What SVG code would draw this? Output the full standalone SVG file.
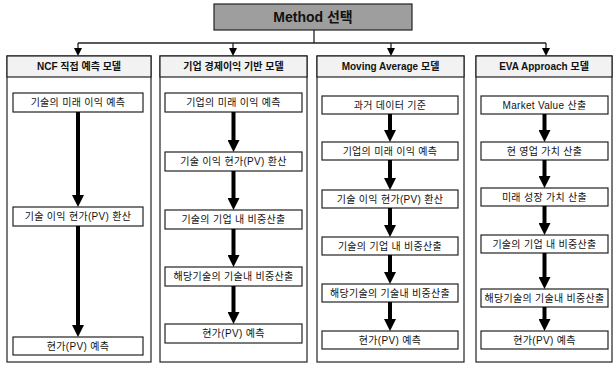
<svg xmlns="http://www.w3.org/2000/svg" width="614" height="365" viewBox="0 0 614 365">
<style>
  text { font-family: "Liberation Sans", "Noto Sans CJK KR", sans-serif; fill: #111; text-anchor: middle; dominant-baseline: central; }
  .t { font-size: 14px; font-weight: bold; }
  .h { font-size: 10px; font-weight: bold; }
  .b { font-size: 10px; letter-spacing: 0.3px; }
  .frame { fill: #fff; stroke: #222; stroke-width: 1.2; }
  .head { fill: #f2f2f2; stroke: #222; stroke-width: 1.2; }
  .box { fill: #fff; stroke: #222; stroke-width: 1.2; }
  .thin { stroke: #222; stroke-width: 1.3; fill: none; }
  .thick { stroke: #000; stroke-width: 4; fill: none; }
</style>
<defs>
  <marker id="big" markerUnits="userSpaceOnUse" markerWidth="12" markerHeight="12" refX="2" refY="6" orient="auto">
    <path d="M0,0 L12,6 L0,12 z" fill="#000"/>
  </marker>
  <marker id="small" markerUnits="userSpaceOnUse" markerWidth="8" markerHeight="8" refX="1" refY="4" orient="auto">
    <path d="M0,0 L8,4 L0,8 z" fill="#000"/>
  </marker>
</defs>
<rect width="614" height="365" fill="#fff"/>

<g id="connectors">
  <line class="thin" x1="314" y1="30" x2="314" y2="43"/>
  <line class="thin" x1="78" y1="43" x2="546" y2="43"/>
  <line class="thin" x1="78" y1="43" x2="78" y2="49" marker-end="url(#small)"/>
  <line class="thin" x1="233" y1="43" x2="233" y2="49" marker-end="url(#small)"/>
  <line class="thin" x1="391" y1="43" x2="391" y2="49" marker-end="url(#small)"/>
  <line class="thin" x1="546" y1="43" x2="546" y2="49" marker-end="url(#small)"/>
</g>

<g id="title">
  <rect x="214" y="4" width="198" height="26" fill="#9e9e9e" stroke="#222" stroke-width="1.2"/>
  <text class="t" x="313" y="17">Method 선택</text>
</g>

<g id="col1">
  <rect class="frame" x="7" y="56" width="144" height="306"/>
  <rect class="head" x="7" y="56" width="144" height="21"/>
  <text class="h" x="79" y="66.5">NCF 직접 예측 모델</text>
  <rect class="box" x="13" y="93" width="130" height="19"/>
  <text class="b" x="78" y="102.5">기술의 미래 이익 예측</text>
  <rect class="box" x="13" y="207" width="130" height="19"/>
  <text class="b" x="78" y="216.5">기술 이익 현가(PV) 환산</text>
  <rect class="box" x="13" y="337" width="130" height="18"/>
  <text class="b" x="78" y="346">현가(PV) 예측</text>
  <line class="thick" x1="78" y1="112" x2="78" y2="197" marker-end="url(#big)"/>
  <line class="thick" x1="78" y1="226" x2="78" y2="327" marker-end="url(#big)"/>
</g>

<g id="col2">
  <rect class="frame" x="160" y="56" width="147" height="306"/>
  <rect class="head" x="160" y="56" width="147" height="21"/>
  <text class="h" x="233.5" y="66.5">기업 경제이익 기반 모델</text>
  <rect class="box" x="165" y="93" width="137" height="19"/>
  <text class="b" x="233.5" y="102.5">기업의 미래 이익 예측</text>
  <rect class="box" x="165" y="152" width="137" height="19"/>
  <text class="b" x="233.5" y="161.5">기술 이익 현가(PV) 환산</text>
  <rect class="box" x="165" y="210" width="137" height="19"/>
  <text class="b" x="233.5" y="219.5">기술의 기업 내 비중산출</text>
  <rect class="box" x="165" y="267" width="137" height="19"/>
  <text class="b" x="233.5" y="276.5">해당기술의 기술내 비중산출</text>
  <rect class="box" x="165" y="324" width="137" height="19"/>
  <text class="b" x="233.5" y="333.5">현가(PV) 예측</text>
  <line class="thick" x1="233.5" y1="112" x2="233.5" y2="142" marker-end="url(#big)"/>
  <line class="thick" x1="233.5" y1="171" x2="233.5" y2="200" marker-end="url(#big)"/>
  <line class="thick" x1="233.5" y1="229" x2="233.5" y2="257" marker-end="url(#big)"/>
  <line class="thick" x1="233.5" y1="286" x2="233.5" y2="314" marker-end="url(#big)"/>
</g>

<g id="col3">
  <rect class="frame" x="317" y="56" width="147" height="306"/>
  <rect class="head" x="317" y="56" width="147" height="21"/>
  <text class="h" x="390.5" y="66.5">Moving Average 모델</text>
  <rect class="box" x="322" y="96" width="136" height="18"/>
  <text class="b" x="390" y="105">과거 데이터 기준</text>
  <rect class="box" x="322" y="142" width="136" height="18"/>
  <text class="b" x="390" y="151">기업의 미래 이익 예측</text>
  <rect class="box" x="322" y="190" width="136" height="18"/>
  <text class="b" x="390" y="199">기술 이익 현가(PV) 환산</text>
  <rect class="box" x="322" y="237" width="136" height="18"/>
  <text class="b" x="390" y="246">기술의 기업 내 비중산출</text>
  <rect class="box" x="322" y="284" width="136" height="18"/>
  <text class="b" x="390" y="293">해당기술의 기술내 비중산출</text>
  <rect class="box" x="322" y="331" width="136" height="18"/>
  <text class="b" x="390" y="340">현가(PV) 예측</text>
  <line class="thick" x1="390" y1="114" x2="390" y2="132" marker-end="url(#big)"/>
  <line class="thick" x1="390" y1="160" x2="390" y2="180" marker-end="url(#big)"/>
  <line class="thick" x1="390" y1="208" x2="390" y2="227" marker-end="url(#big)"/>
  <line class="thick" x1="390" y1="255" x2="390" y2="274" marker-end="url(#big)"/>
  <line class="thick" x1="390" y1="302" x2="390" y2="321" marker-end="url(#big)"/>
</g>

<g id="col4">
  <rect class="frame" x="476" y="56" width="136" height="306"/>
  <rect class="head" x="476" y="56" width="136" height="21"/>
  <text class="h" x="544" y="66.5">EVA Approach 모델</text>
  <rect class="box" x="481" y="96" width="127" height="18"/>
  <text class="b" x="544.5" y="105">Market Value 산출</text>
  <rect class="box" x="481" y="142" width="127" height="18"/>
  <text class="b" x="544.5" y="151">현 영업 가치 산출</text>
  <rect class="box" x="481" y="188" width="127" height="18"/>
  <text class="b" x="544.5" y="197">미래 성장 가치 산출</text>
  <rect class="box" x="481" y="235" width="127" height="18"/>
  <text class="b" x="544.5" y="244">기술의 기업 내 비중산출</text>
  <rect class="box" x="481" y="289" width="127" height="18"/>
  <text class="b" x="544.5" y="298">해당기술의 기술내 비중산출</text>
  <rect class="box" x="481" y="331" width="127" height="18"/>
  <text class="b" x="544.5" y="340">현가(PV) 예측</text>
  <line class="thick" x1="544.5" y1="114" x2="544.5" y2="132" marker-end="url(#big)"/>
  <line class="thick" x1="544.5" y1="160" x2="544.5" y2="178" marker-end="url(#big)"/>
  <line class="thick" x1="544.5" y1="206" x2="544.5" y2="225" marker-end="url(#big)"/>
  <line class="thick" x1="544.5" y1="253" x2="544.5" y2="279" marker-end="url(#big)"/>
  <line class="thick" x1="544.5" y1="307" x2="544.5" y2="321" marker-end="url(#big)"/>
</g>
</svg>
